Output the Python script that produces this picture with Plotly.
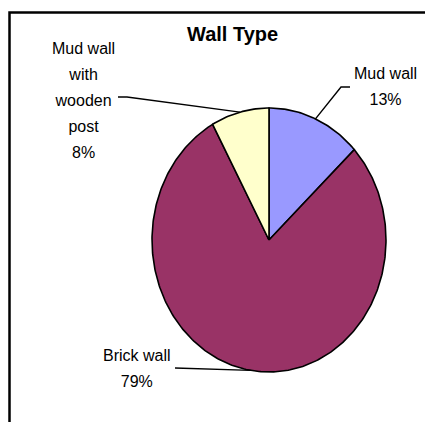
import numpy as np
import plotly.graph_objects as go

# ---- data ----
categories = ["Mud wall", "Brick wall", "Mud wall with wooden post"]
shares = [13, 79, 8]                      # percent of households
label_lines = [["Mud wall"], ["Brick wall"], ["Mud wall", "with", "wooden", "post"]]

# ---- styling / layout ----
W, H = 425, 422
colors = ["#9999FF", "#993366", "#FFFFCC"]
CX, CY, RX, RY = 269, 240, 117, 132       # pie centre and radii in page pixels
FONT = "Liberation Sans, Arial, sans-serif"
TEXT_PX = 16                              # glyph size of the slice labels
LINE_PX = 20                              # base size -> 1.3 * 20 = 26 px line pitch


def px_to_data(px, py):
    """Page pixel -> data units where the pie is the unit circle."""
    return (px - CX) / RX, (CY - py) / RY


# label centre (pixels) and the leader path from label to the pie edge
label_pos = [(385, 87), (137, 368), (83, 101)]
leader_path = [[(350, 87), (341, 87)], [(175, 368)], [(118, 97), (127, 97)]]

fig = go.Figure()

total = float(sum(shares))
start = 0.0
mids = []
for name, v, col in zip(categories, shares, colors):
    f0, f1 = start / total, (start + v) / total
    t = np.linspace(f0, f1, max(int(v * 4), 8)) * 2 * np.pi
    xs = np.concatenate([[0.0], np.sin(t), [0.0]])
    ys = np.concatenate([[0.0], np.cos(t), [0.0]])
    fig.add_trace(go.Scatter(
        x=xs, y=ys, mode="lines", fill="toself", fillcolor=col,
        line=dict(color="black", width=1.6), name=name,
        hoverinfo="name", showlegend=False,
    ))
    fm = (f0 + f1) / 2 * 2 * np.pi
    mids.append((np.sin(fm), np.cos(fm)))
    start += v

# leader lines from labels to the slice mid-points
for path, (mx, my) in zip(leader_path, mids):
    pts = [px_to_data(*p) for p in path]
    fig.add_trace(go.Scatter(
        x=[p[0] for p in pts] + [mx], y=[p[1] for p in pts] + [my],
        mode="lines", line=dict(color="black", width=1.4),
        hoverinfo="skip", showlegend=False,
    ))


def sized(s):
    return f"<span style='font-size:{TEXT_PX}px'>{s}</span>"


annotations = []
for lines, v, (lx, ly) in zip(label_lines, shares, label_pos):
    text = "<br>".join(sized(s) for s in lines + [f"{v}%"])
    annotations.append(dict(
        text=text, x=lx / W, y=1 - ly / H, xref="paper", yref="paper",
        xanchor="center", yanchor="middle", showarrow=False, align="center",
        font=dict(family=FONT, size=LINE_PX, color="black"),
    ))
annotations.append(dict(
    text="<b>Wall Type</b>", x=232 / W, y=1 - 34 / H, xref="paper", yref="paper",
    xanchor="center", yanchor="middle", showarrow=False,
    font=dict(family=FONT, size=20, color="black"),
))

x0, _ = px_to_data(0, 0)
x1, _ = px_to_data(W, 0)
_, y1 = px_to_data(0, 0)
_, y0 = px_to_data(0, H)

fig.update_layout(
    width=W, height=H, margin=dict(l=0, r=0, t=0, b=0),
    paper_bgcolor="white", plot_bgcolor="white",
    xaxis=dict(range=[x0, x1], visible=False, fixedrange=True),
    yaxis=dict(range=[y0, y1], visible=False, fixedrange=True),
    annotations=annotations,
    shapes=[dict(type="rect", xref="paper", yref="paper",
                 x0=9.5 / W, y0=-0.2, x1=1.2, y1=1 - 12.5 / H,
                 line=dict(color="black", width=2.5), layer="above")],
)

fig.write_html("out.html")
